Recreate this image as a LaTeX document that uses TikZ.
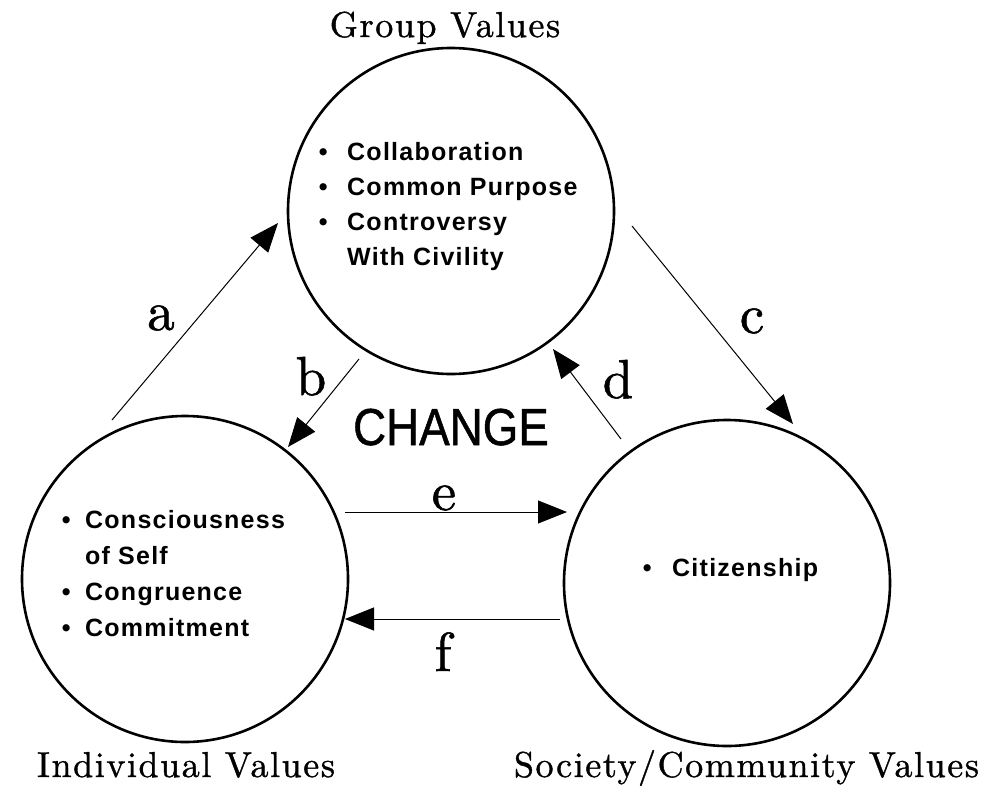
\documentclass[tikz,border=0pt]{standalone}
\usepackage{fontspec}
\usepackage{graphicx}
\usetikzlibrary{arrows.meta}
\newfontfamily\bodysans[LetterSpace=5]{Liberation Sans}
\newfontfamily\plainsans[FakeBold=1]{Liberation Sans}
\newfontfamily\labelserif[LetterSpace=4.4,FakeBold=1]{lmroman10-regular.otf}
\newfontfamily\letterserif[FakeBold=1]{lmroman10-regular.otf}
\newcommand{\blt}[1]{\makebox[#1][c]{\textbullet}}
\begin{document}
\begin{tikzpicture}[x=1pt,y=-1pt,
  valcircle/.style={circle, draw, line width=2.6pt, minimum size=326pt, inner sep=0pt},
  conn/.style={line width=1pt, -{Triangle[length=29pt,width=23pt]}},
  letterlab/.style={anchor=base, inner sep=0pt, font=\letterserif\fontsize{55}{60}\selectfont},
  titlelab/.style={anchor=base, inner sep=0pt, font=\labelserif\fontsize{36}{40}\selectfont},
  listtext/.style={anchor=base west, inner sep=0pt, font=\bodysans\bfseries\fontsize{25}{35}\selectfont},
  changelab/.style={anchor=base, inner sep=0pt, font=\plainsans\fontsize{52}{56}\selectfont}
]
\useasboundingbox (0,0) rectangle (1002,790);

% circles
\node[valcircle] (grp) at (451,211) {};
\node[valcircle] (ind) at (185,579) {};
\node[valcircle] (soc) at (727,583) {};

% titles
\node[titlelab] (glab) at (445,37) {Group Values};
\node[titlelab] (ilab) at (186,777) {Individual Values};
\node[titlelab] (slab) at (746.5,777) {Society/Community Values};

% lists
\node[listtext] (glist) at (299,160) {\begin{tabular}[t]{@{}l@{}l@{}}
\blt{48pt} & Collaboration\\
\blt{48pt} & Common Purpose\\
\blt{48pt} & Controversy\\
 & With Civility
\end{tabular}};
\node[listtext, font=\bodysans\bfseries\fontsize{25}{36}\selectfont] (ilist) at (47,528) {\begin{tabular}[t]{@{}l@{}l@{}}
\blt{38pt} & Consciousness\\
 & of Self\\
\blt{38pt} & Congruence\\
\blt{38pt} & Commitment
\end{tabular}};
\node[listtext] (slist) at (622,576) {\blt{50pt}Citizenship};

% centre word
\node[changelab] (chg) at (451,445) {\scalebox{0.88}[1]{CHANGE}};

% connectors
\coordinate (a1) at (112,420); \coordinate (a2) at (278,223);
\coordinate (b1) at (359,359); \coordinate (b2) at (288,447);
\coordinate (c1) at (632,226); \coordinate (c2) at (793,424);
\coordinate (d1) at (621,439); \coordinate (d2) at (553,349);
\coordinate (e1) at (345,512); \coordinate (e2) at (567,512);
\coordinate (f1) at (560,619); \coordinate (f2) at (345,619);
\draw[conn] (a1) -- (a2);
\draw[conn] (b1) -- (b2);
\draw[conn] (c1) -- (c2);
\draw[conn] (d1) -- (d2);
\draw[conn] (e1) -- (e2);
\draw[conn] (f1) -- (f2);

% connector labels
\node[letterlab] (la) at (161,330) {a};
\node[letterlab] (lb) at (311,395) {b};
\node[letterlab] (lc) at (752,333) {c};
\node[letterlab] (ld) at (618,398) {d};
\node[letterlab] (le) at (444,510) {e};
\node[letterlab] (lf) at (443,671) {f};
\end{tikzpicture}
\end{document}
